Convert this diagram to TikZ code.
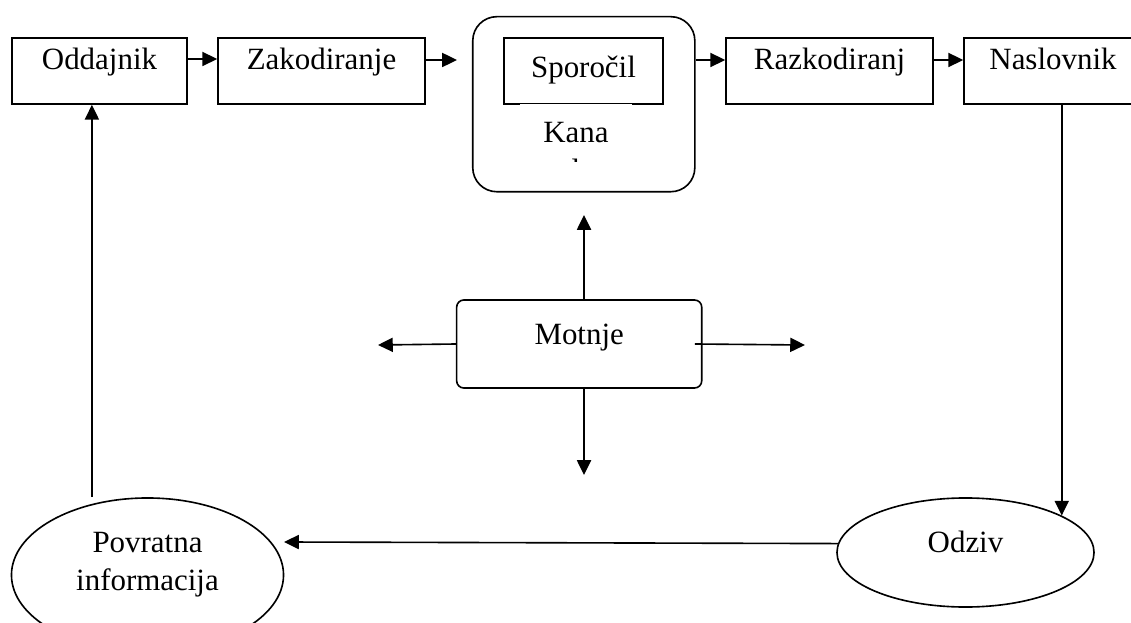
\documentclass[tikz,border=0pt]{standalone}
\usepackage{fontspec}
\setmainfont{Liberation Serif}
\usetikzlibrary{arrows.meta,shapes.geometric}

\begin{document}
\begin{tikzpicture}[x=0.025cm, y=-0.025cm, >={Triangle[length=10.5pt,width=10pt]},
  every node/.style={font=\fontsize{22}{26.5}\selectfont},
  stepbox/.style={draw, line width=1.15pt, inner sep=0pt, minimum height=1.65cm, text height=0.8cm, text depth=0.85cm},
  oval/.style={draw, ellipse, line width=1.15pt, inner sep=0pt},
  link/.style={->, line width=1.15pt}]
  \clip (0,0) rectangle (1131,623);
  \node[stepbox, minimum width=4.375cm] (odd) at (99.5,71) {Oddajnik};
  \node[stepbox, minimum width=5.175cm] (zak) at (321.5,71) {Zakodiranje};
  \node[draw, line width=1.15pt, rounded corners=0.6cm, minimum width=5.55cm, minimum height=4.375cm] (kanal) at (583.8,104.2) {};
  \node[stepbox, minimum width=3.975cm, text height=1cm, text depth=0.65cm] (spo) at (583.5,71) {Sporočil};
  \begin{scope}
    \clip (520,104.3) rectangle (632,162);
    \node[fill=white, inner sep=0pt, minimum width=2.8cm, text height=1.5cm, text depth=1.5cm, anchor=base] (kana) at (576,143) {\begin{tabular}[t]{@{}c@{}}Kana\\l\end{tabular}};
  \end{scope}
  \node[stepbox, minimum width=5.175cm] (raz) at (829.5,71) {Razkodiranj};
  \node[stepbox, minimum width=4.45cm] (nas) at (1053,71) {Naslovnik};
  \node[draw, line width=1.15pt, rounded corners=0.18cm, inner sep=0pt, minimum width=6.125cm, minimum height=2.2cm, text height=1.1cm, text depth=1.1cm] (mot) at (579.2,344) {Motnje};
  \node[oval, minimum width=6.8cm, minimum height=3.85cm, text height=0cm, text depth=1.1cm] (povr) at (147.5,575) {\begin{tabular}[t]{@{}c@{}}Povratna\\informacija\end{tabular}};
  \node[oval, minimum width=6.425cm, minimum height=2.725cm, text height=0.3cm, text depth=0.3cm] (odz) at (965.5,552.5) {Odziv};
  \coordinate (mup) at (584,215);
  \coordinate (mdown) at (584,475);
  \coordinate (mleft) at (378,345);
  \coordinate (mright) at (805,345);
  \coordinate (fbin) at (284,542);
  \coordinate (fbx) at ([xshift=-0.19cm]odd.south);
  \draw[link] ([yshift=0.3cm]odd.east) -- ([yshift=0.3cm]zak.west);
  \draw[link] ([yshift=0.275cm]zak.east) -- ([yshift=0.275cm,xshift=-0.375cm]zak.east -| kanal.west);
  \draw[link] ([yshift=0.275cm]zak.east -| kanal.east) -- ([yshift=0.275cm]raz.west);
  \draw[link] ([yshift=0.275cm]raz.east) -- ([yshift=0.275cm]nas.west);
  \draw[link] ([xshift=0.12cm]mot.north) -- (mup);
  \draw[link] ([xshift=0.12cm]mot.south) -- (mdown);
  \draw[link] (mot.west) -- (mleft);
  \draw[link] ([xshift=-0.19cm]mot.east) -- (mright);
  \draw[link] (nas.south -| odz.21) -- (odz.21);
  \draw[link] (odz.176) -- (fbin);
  \draw[link] (povr.north -| fbx) -- (fbx);
\end{tikzpicture}
\end{document}
